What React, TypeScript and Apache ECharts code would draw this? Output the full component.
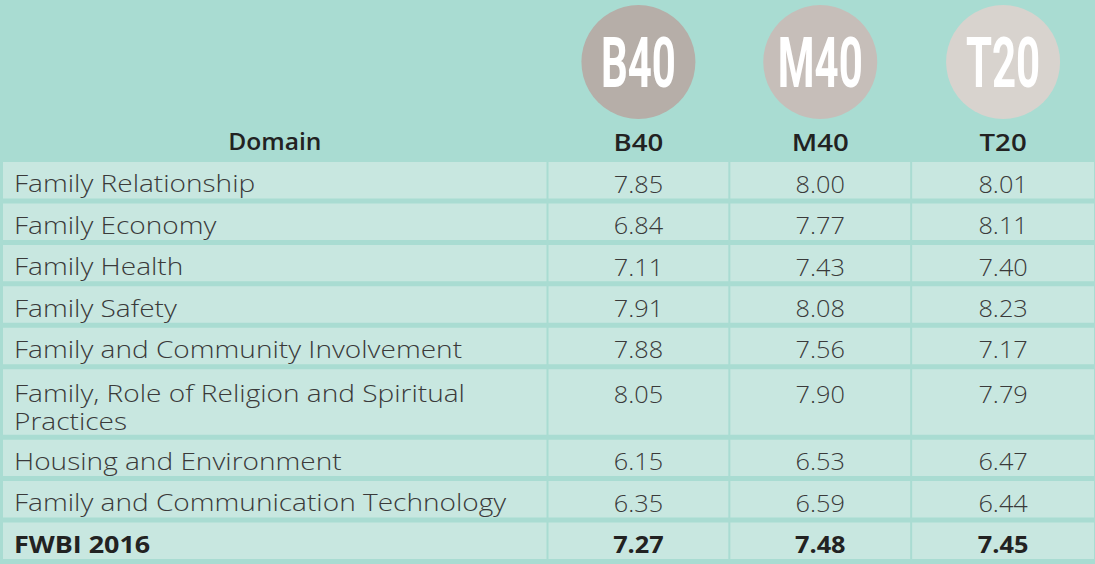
import React, { useEffect, useRef } from "react";
import * as echarts from "echarts";

const columns = ["Domain", "B40", "M40", "T20"];
const domains = [
  "Family Relationship",
  "Family Economy",
  "Family Health",
  "Family Safety",
  "Family and Community Involvement",
  "Family, Role of Religion and Spiritual\nPractices",
  "Housing and Environment",
  "Family and Communication Technology",
  "FWBI 2016",
];
const b40 = [7.85, 6.84, 7.11, 7.91, 7.88, 8.05, 6.15, 6.35, 7.27];
const m40 = [8.0, 7.77, 7.43, 8.08, 7.56, 7.9, 6.53, 6.59, 7.48];
const t20 = [8.01, 8.11, 7.4, 8.23, 7.17, 7.79, 6.47, 6.44, 7.45];

const groupValues = [b40, m40, t20];
const circleColors = ["#b6aea8", "#c6beb9", "#d8d3ce"];
const colWeights = [3, 1, 1, 1];
const BG = "#a9dcd2";
const CELL = "#c8e7e0";
const BODY_FONT = "'Open Sans', 'Noto Sans', sans-serif";
const CIRCLE_FONT = "Roboto, 'DejaVu Sans Condensed', sans-serif";

export default function App() {
  const ref = useRef<HTMLDivElement>(null);
  useEffect(() => {
    const chart = echarts.init(ref.current!, undefined, { renderer: "svg" });

    const colStarts: number[] = [];
    let acc = 0;
    colWeights.forEach((w) => {
      colStarts.push(acc);
      acc += w;
    });
    const totalCols = acc;

    const rowLines = domains.map((d) => d.split("\n").length);
    const rowUnits = rowLines.map((n) => 1 + 0.7 * (n - 1));
    const rowStarts: number[] = [];
    let racc = 0;
    rowUnits.forEach((u) => {
      rowStarts.push(racc);
      racc += u;
    });
    const totalRows = racc;
    const lastRow = domains.length - 1;

    const data: number[][] = [];
    columns.forEach((_, c) => data.push([colStarts[c], 0, c, -1]));
    domains.forEach((_, r) => {
      columns.forEach((_, c) => data.push([colStarts[c], rowStarts[r], c, r]));
    });

    const renderItem = (params: any, api: any) => {
      const col = api.value(2) as number;
      const row = api.value(3) as number;
      const x0 = colStarts[col];
      const x1 = x0 + colWeights[col];
      const sep = col < columns.length - 1 ? 2 : 0;
      if (row < 0) {
        const p0 = api.coord([x0, 0]);
        const p1 = api.coord([x1, 0]);
        const cx = (p0[0] + p1[0] - sep) / 2;
        const top = p0[1];
        const children: any[] = [
          {
            type: "text",
            x: cx,
            y: top - 20.5,
            scaleX: col === 0 ? 1.07 : 1.2,
            style: {
              text: columns[col],
              align: "center",
              verticalAlign: "middle",
              fontFamily: BODY_FONT,
              fontSize: 23,
              fontWeight: 600,
              fill: "#222222",
            },
          },
        ];
        if (col > 0) {
          children.push({
            type: "circle",
            shape: { cx, cy: top - 100, r: 57 },
            style: { fill: circleColors[col - 1] },
          });
          children.push({
            type: "text",
            x: cx,
            y: top - 99,
            scaleX: 0.6,
            style: {
              text: columns[col],
              align: "center",
              verticalAlign: "middle",
              fontFamily: CIRCLE_FONT,
              fontSize: 70,
              fontWeight: 700,
              fill: "#ffffff",
            },
          });
        }
        return { type: "group", children };
      }
      const p0 = api.coord([x0, rowStarts[row]]);
      const p1 = api.coord([x1, rowStarts[row] + rowUnits[row]]);
      const left = p0[0];
      const top = p0[1];
      const w = p1[0] - p0[0] - sep;
      const h = p1[1] - p0[1] - 5;
      const bold = row === lastRow;
      const text =
        col === 0 ? domains[row] : groupValues[col - 1][row].toFixed(2);
      const extra = rowLines[row] > 1 ? 3 : 0;
      return {
        type: "group",
        children: [
          {
            type: "rect",
            shape: { x: left, y: top, width: w, height: h },
            style: { fill: CELL },
          },
          {
            type: "text",
            x: col === 0 ? left + 11 : left + w / 2,
            y: top + 8 + extra,
            scaleX: col === 0 ? (bold ? 1.17 : 1.22) : 1.1,
            style: {
              text,
              align: col === 0 ? "left" : "center",
              verticalAlign: "top",
              lineHeight: 27.3,
              fontFamily: BODY_FONT,
              fontSize: 23,
              fontWeight: bold ? 700 : 300,
              fill: bold ? "#222222" : "#3a3a3a",
            },
          },
        ],
      };
    };

    chart.setOption({
      animation: false,
      backgroundColor: BG,
      grid: { left: 3, top: 162, width: 1091, height: 407 },
      xAxis: { type: "value", min: 0, max: totalCols, show: false },
      yAxis: { type: "value", min: 0, max: totalRows, inverse: true, show: false },
      series: [
        {
          type: "custom",
          coordinateSystem: "cartesian2d",
          clip: false,
          silent: true,
          encode: { x: 0, y: 1 },
          renderItem,
          data,
        },
      ],
    });
    return () => chart.dispose();
  }, []);
  return (
    <div
      ref={ref}
      style={{ position: "absolute", left: 0, top: 0, width: 1095, height: 564 }}
    />
  );
}
